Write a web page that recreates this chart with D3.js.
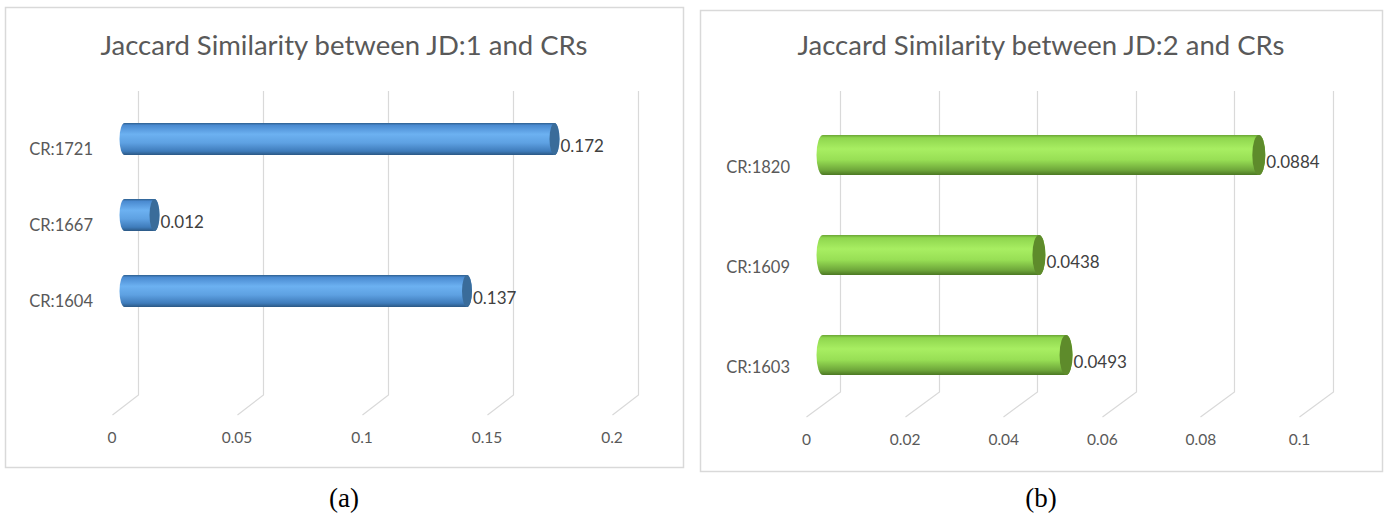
<!DOCTYPE html>
<html>
<head>
<meta charset="utf-8">
<script src="https://cdn.jsdelivr.net/npm/d3@7/dist/d3.min.js"></script>
<style>
  html, body { margin: 0; padding: 0; background: #fff; }
  svg { display: block; }
</style>
</head>
<body>
<svg id="chart" width="1387" height="519"></svg>
<script>
// Jaccard similarity of each job description against its candidate résumés
const titleA = "Jaccard Similarity between JD:1 and CRs";
const categoriesA = ["CR:1721", "CR:1667", "CR:1604"];
const valuesA = [0.172, 0.012, 0.137];
const ticksA = [0, 0.05, 0.1, 0.15, 0.2];

const titleB = "Jaccard Similarity between JD:2 and CRs";
const categoriesB = ["CR:1820", "CR:1609", "CR:1603"];
const valuesB = [0.0884, 0.0438, 0.0493];
const ticksB = [0, 0.02, 0.04, 0.06, 0.08, 0.1];

const captions = ["(a)", "(b)"];

const svg = d3.select("#chart");
const defs = svg.append("defs");

// cylinder shading: dark rim, bright highlight, darker underside
function addGradient(id, stops) {
  const g = defs.append("linearGradient").attr("id", id)
    .attr("x1", 0).attr("y1", 0).attr("x2", 0).attr("y2", 1);
  stops.forEach(([o, c]) => g.append("stop").attr("offset", o).attr("stop-color", c));
}
addGradient("blueBar", [
  [0, "#2d5f8e"], [0.07, "#4a8ad0"], [0.35, "#6cb1f1"], [0.62, "#5ea1e2"],
  [0.88, "#3f7cbb"], [1, "#2b5884"]
]);
addGradient("greenBar", [
  [0, "#6aa534"], [0.07, "#8fd64e"], [0.35, "#a8ee62"], [0.62, "#98df55"],
  [0.88, "#6ea63a"], [1, "#4c7823"]
]);

const panels = [
  {
    title: titleA, cats: categoriesA, vals: valuesA, ticks: ticksA, caption: captions[0],
    box: [5, 7, 683, 467], wallTop: 91, wallBottom: 395, depthX: 26, depthY: 20,
    xRange: [137.5, 637.5], yRange: [139, 291], barH: 32, rx: 5,
    tickY: 443, catX: 93, catDy: 15, fill: "url(#blueBar)", cap: "#3a6c9a"
  },
  {
    title: titleB, cats: categoriesB, vals: valuesB, ticks: ticksB, caption: captions[1],
    box: [700, 10, 1382, 471], wallTop: 91, wallBottom: 392, depthX: 34, depthY: 25,
    xRange: [840, 1333], yRange: [155, 355], barH: 40, rx: 6.5,
    tickY: 445, catX: 790, catDy: 17, fill: "url(#greenBar)", cap: "#5e8b2b"
  }
];

const font = "Lato, 'Open Sans', sans-serif";

panels.forEach(p => {
  const g = svg.append("g");
  const [x0, y0, x1, y1] = p.box;
  const domainMax = p.ticks[p.ticks.length - 1];

  // back wall, mid-depth and front positions along the value axis
  const xBack = d3.scaleLinear().domain([0, domainMax]).range(p.xRange);
  const xMid = d3.scaleLinear().domain([0, domainMax])
    .range(p.xRange.map(v => v - p.depthX / 2));
  const xFront = d3.scaleLinear().domain([0, domainMax])
    .range(p.xRange.map(v => v - p.depthX));
  const y = d3.scalePoint().domain(p.cats).range(p.yRange);

  g.append("rect")
    .attr("x", x0 + 0.5).attr("y", y0 + 0.5)
    .attr("width", x1 - x0).attr("height", y1 - y0)
    .attr("fill", "#fff").attr("stroke", "#d9d9d9").attr("stroke-width", 1.5);

  g.append("text")
    .attr("x", (x0 + x1) / 2).attr("y", 55)
    .attr("text-anchor", "middle")
    .attr("font-family", font).attr("font-size", 27.5)
    .attr("fill", "#595959")
    .text(p.title);

  // gridlines on the back wall, bending forward across the floor
  g.append("g").selectAll("path").data(p.ticks).join("path")
    .attr("d", t => {
      const xb = Math.round(xBack(t)) + 0.5;
      return `M${xb},${p.wallTop}V${p.wallBottom}L${xb - p.depthX},${p.wallBottom + p.depthY}`;
    })
    .attr("fill", "none").attr("stroke", "#d9d9d9").attr("stroke-width", 1.2);

  // value axis labels at the front edge of the floor
  const ax = g.append("g")
    .attr("transform", `translate(0,${p.tickY - 11})`)
    .call(d3.axisBottom(xFront).tickValues(p.ticks).tickSize(0).tickPadding(0)
      .tickFormat(d3.format("~g")));
  ax.select(".domain").remove();
  ax.selectAll("text")
    .attr("font-family", font).attr("font-size", 15.5).attr("fill", "#595959");

  // category labels
  const ay = g.append("g")
    .attr("transform", `translate(${p.catX},${p.catDy - 5})`)
    .call(d3.axisLeft(y).tickSize(0).tickPadding(0));
  ay.select(".domain").remove();
  ay.selectAll("text")
    .attr("font-family", font).attr("font-size", 16.5).attr("fill", "#595959");

  const bars = g.append("g").selectAll("g")
    .data(p.cats.map((c, i) => ({ c, v: p.vals[i] })))
    .join("g");

  const ry = p.barH / 2;
  bars.append("path")
    .attr("d", d => {
      const xs = xMid(0), xe = xMid(d.v);
      const top = y(d.c) - ry, bot = y(d.c) + ry;
      return `M${xs},${top}L${xe},${top}A${p.rx},${ry} 0 0 1 ${xe},${bot}` +
             `L${xs},${bot}A${p.rx},${ry} 0 0 1 ${xs},${top}Z`;
    })
    .attr("fill", p.fill);

  bars.append("ellipse")
    .attr("cx", d => xMid(d.v)).attr("cy", d => y(d.c))
    .attr("rx", p.rx).attr("ry", ry)
    .attr("fill", p.cap);

  bars.append("text")
    .attr("x", d => xMid(d.v) + p.rx + 1)
    .attr("y", d => y(d.c) + 13)
    .attr("font-family", font).attr("font-size", 17).attr("fill", "#404040")
    .text(d => String(d.v));

  svg.append("text")
    .attr("x", (x0 + x1) / 2).attr("y", 507)
    .attr("text-anchor", "middle")
    .attr("font-family", "'Liberation Serif', 'Times New Roman', serif")
    .attr("font-size", 27).attr("fill", "#000")
    .text(p.caption);
});
</script>
</body>
</html>
